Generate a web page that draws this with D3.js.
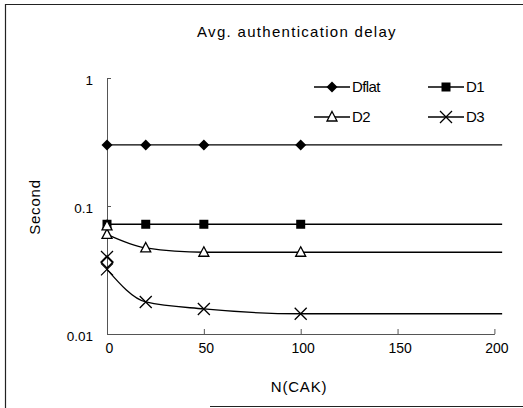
<!DOCTYPE html>
<html>
  <head>
    <meta charset="utf-8">
    <title>Avg. authentication delay</title>
    <script src="https://d3js.org/d3.v7.min.js"></script>
    <style>
      body { margin: 0; background: #fff; }
      text { font-family: "Liberation Sans", Arial, sans-serif; fill: #000; }
    </style>
  </head>
  <body>
  <script>

    // data
    var nCak = [0, 20, 50, 100, 204];
    var dflat = [0.3, 0.3, 0.3, 0.3, 0.3];
    var d1 = [0.072, 0.072, 0.072, 0.072, 0.072];
    var d2 = [0.06, 0.047, 0.0435, 0.0435, 0.0435];
    var d3v = [0.032, 0.0178, 0.0157, 0.0144, 0.0144];
    // loose markers sitting on the y axis
    var dflatExtra = [[0, 0.0365]];
    var d2Extra = [[0, 0.07]];
    var d3Extra = [[0, 0.040]];

    var xTicks = [0, 50, 100, 150, 200];
    var yTicks = [0.01, 0.1, 1];
    var names = ["Dflat", "D1", "D2", "D3"];

    var W = 523, H = 408;
    var svg = d3.select("body").append("svg")
        .attr("width", W)
        .attr("height", H);

    // frame
    svg.append("path")
        .attr("d", "M5.5,408 V4.5 H523 M210,406.5 H523")
        .attr("fill", "none")
        .attr("stroke", "#222")
        .attr("stroke-width", 1.2);

    var x = d3.scaleLinear().domain([0, 200]).range([107, 494.4]);
    var y = d3.scaleLog().domain([0.01, 1]).range([334, 78]);

    // axes
    var xAxis = svg.append("g")
        .attr("transform", "translate(0,334)")
        .call(d3.axisBottom(x).tickValues(xTicks).tickSizeInner(-5).tickSizeOuter(0).tickPadding(9));
    xAxis.selectAll("text").style("font-size", "14px").attr("dx", 2);

    var yAxis = svg.append("g")
        .attr("transform", "translate(107,0)")
        .call(d3.axisLeft(y).tickValues(yTicks).tickFormat(d3.format("")).tickSizeInner(-4).tickSizeOuter(0).tickPadding(14));
    yAxis.selectAll("text").style("font-size", "13.5px").attr("dy", "0.5em");

    svg.selectAll(".domain, .tick line").attr("stroke", "#555");

    // titles
    svg.append("text")
        .attr("x", 297).attr("y", 37)
        .attr("text-anchor", "middle")
        .style("font-size", "15px")
        .style("letter-spacing", "1.3px")
        .text("Avg. authentication delay");

    svg.append("text")
        .attr("transform", "translate(40,207) rotate(-90)")
        .attr("text-anchor", "middle")
        .style("font-size", "15px")
        .style("letter-spacing", "0.8px")
        .text("Second");

    svg.append("text")
        .attr("x", 299).attr("y", 392)
        .attr("text-anchor", "middle")
        .style("font-size", "15px")
        .style("letter-spacing", "0.8px")
        .text("N(CAK)");

    // marker shapes
    function marker(g, kind) {
      if (kind == "diamond") {
        g.append("path").attr("d", "M0,-5.5 L5.5,0 L0,5.5 L-5.5,0 Z").attr("fill", "#000");
      } else if (kind == "square") {
        g.append("rect").attr("x", -4.5).attr("y", -4.5).attr("width", 9).attr("height", 9).attr("fill", "#000");
      } else if (kind == "triangle") {
        g.append("path").attr("d", "M0,-5.5 L5,4 L-5,4 Z")
          .attr("fill", "#fff").attr("stroke", "#000").attr("stroke-width", 1.3);
      } else if (kind == "openDiamond") {
        g.append("path").attr("d", "M0,-6 L6,0 L0,6 L-6,0 Z")
          .attr("fill", "none").attr("stroke", "#000").attr("stroke-width", 1.3);
      } else {
        g.append("path").attr("d", "M-6,-6 L6,6 M-6,6 L6,-6")
          .attr("stroke", "#000").attr("stroke-width", 1.3);
      }
    }

    var series = [
      { vals: dflat, kind: "diamond", extra: dflatExtra, extraKind: "openDiamond" },
      { vals: d1, kind: "square", extra: [], extraKind: "square" },
      { vals: d2, kind: "triangle", extra: d2Extra, extraKind: "triangle" },
      { vals: d3v, kind: "cross", extra: d3Extra, extraKind: "cross" }
    ];

    var line = d3.line()
        .x(function (d) { return x(d[0]); })
        .y(function (d) { return y(d[1]); })
        .curve(d3.curveMonotoneX);

    series.forEach(function (s) {
      var pts = nCak.map(function (n, i) { return [n, s.vals[i]]; });
      svg.append("path")
          .attr("d", line(pts))
          .attr("fill", "none")
          .attr("stroke", "#000")
          .attr("stroke-width", 1.3);
      // the last point only closes the line, no marker
      pts.slice(0, -1).forEach(function (p) {
        marker(svg.append("g").attr("transform", "translate(" + x(p[0]) + "," + y(p[1]) + ")"), s.kind);
      });
      s.extra.forEach(function (p) {
        marker(svg.append("g").attr("transform", "translate(" + x(p[0]) + "," + y(p[1]) + ")"), s.extraKind);
      });
    });

    // legend
    var legX = [314, 428];
    var legY = [87, 117];
    series.forEach(function (s, i) {
      var lx = legX[i % 2], ly = legY[Math.floor(i / 2)];
      var g = svg.append("g");
      g.append("line")
          .attr("x1", lx).attr("x2", lx + 36)
          .attr("y1", ly).attr("y2", ly)
          .attr("stroke", "#000").attr("stroke-width", 1.3);
      marker(g.append("g").attr("transform", "translate(" + (lx + 18) + "," + ly + ")"), s.kind);
      g.append("text")
          .attr("x", lx + 38).attr("y", ly + 5)
          .style("font-size", "15px")
          .style("letter-spacing", "-0.6px")
          .text(names[i]);
    });

  </script>
  </body>
</html>
